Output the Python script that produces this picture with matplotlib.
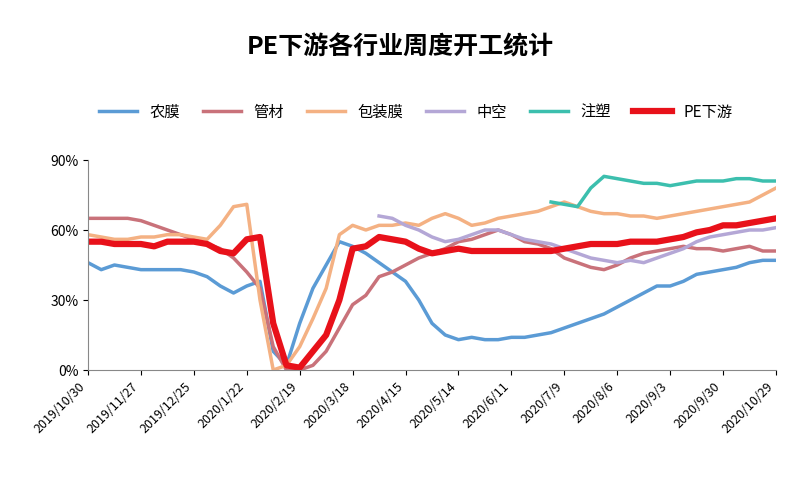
import numpy as np
import matplotlib
matplotlib.use("Agg")
import matplotlib.pyplot as plt

plt.rcParams['font.family'] = ['Noto Sans CJK SC', 'DejaVu Sans']

nan = np.nan

# ====== 数据 (周度开工率 %) ======
tick_labels = ["2019/10/30", "2019/11/27", "2019/12/25", "2020/1/22", "2020/2/19",
               "2020/3/18", "2020/4/15", "2020/5/14", "2020/6/11", "2020/7/9",
               "2020/8/6", "2020/9/3", "2020/9/30", "2020/10/29"]

nongmo = [46, 43, 45, 44, 43, 43, 43, 43, 42, 40, 36, 33, 36, 38, 8, 2, 20, 35, 45, 55,
          53, 50, 46, 42, 38, 30, 20, 15, 13, 14, 13, 13, 14, 14, 15, 16, 18, 20, 22, 24,
          27, 30, 33, 36, 36, 38, 41, 42, 43, 44, 46, 47, 47]
guancai = [65, 65, 65, 65, 64, 62, 60, 58, 56, 54, 52, 48, 42, 35, 10, 0, 0, 2, 8, 18,
           28, 32, 40, 42, 45, 48, 50, 52, 55, 56, 58, 60, 58, 55, 54, 52, 48, 46, 44, 43,
           45, 48, 50, 51, 52, 53, 52, 52, 51, 52, 53, 51, 51]
baozhuang = [58, 57, 56, 56, 57, 57, 58, 58, 57, 56, 62, 70, 71, 30, 0, 2, 10, 22, 35, 58,
             62, 60, 62, 62, 63, 62, 65, 67, 65, 62, 63, 65, 66, 67, 68, 70, 72, 70, 68, 67,
             67, 66, 66, 65, 66, 67, 68, 69, 70, 71, 72, 75, 78]
zhongkong = [nan] * 22 + [66, 65, 62, 60, 57, 55, 56, 58, 60, 60, 58, 56, 55, 54, 52, 50,
                          48, 47, 46, 47, 46, 48, 50, 52, 55, 57, 58, 59, 60, 60, 61]
zhusu = [nan] * 35 + [72, 71, 70, 78, 83, 82, 81, 80, 80, 79, 80, 81, 81, 81, 82, 82, 81, 81]
pe = [55, 55, 54, 54, 54, 53, 55, 55, 55, 54, 51, 50, 56, 57, 20, 2, 1, 8, 15, 30,
      52, 53, 57, 56, 55, 52, 50, 51, 52, 51, 51, 51, 51, 51, 51, 51, 52, 53, 54, 54,
      54, 55, 55, 55, 56, 57, 59, 60, 62, 62, 63, 64, 65]

series = [("农膜", nongmo, "#5b9bd5", 2.5),
          ("管材", guancai, "#c9727a", 2.5),
          ("包装膜", baozhuang, "#f4b183", 2.5),
          ("中空", zhongkong, "#b4a7d6", 2.5),
          ("注塑", zhusu, "#3cbfae", 2.5),
          ("PE下游", pe, "#e8111a", 4.5)]

fig, ax = plt.subplots(figsize=(8, 5), dpi=100)
fig.subplots_adjust(left=0.11, right=0.97, top=0.68, bottom=0.26)

x = np.arange(len(nongmo))
for name, vals, col, lw in series:
    ax.plot(x, vals, color=col, lw=lw, label=name)

ax.set_ylim(0, 90)
ax.set_yticks([0, 30, 60, 90])
ax.set_yticklabels(["0%", "30%", "60%", "90%"], fontsize=10)
ax.set_xlim(0, len(x) - 1)
ax.set_xticks(np.arange(0, len(x), 4))
ax.set_xticklabels(tick_labels, rotation=45, ha="right", fontsize=9)

ax.spines["top"].set_visible(False)
ax.spines["right"].set_visible(False)
ax.spines["left"].set_color("#888888")
ax.spines["bottom"].set_color("#888888")

fig.suptitle("PE下游各行业周度开工统计", fontsize=18, fontweight="bold", y=0.93)
fig.legend(loc="upper center", ncol=6, frameon=False, bbox_to_anchor=(0.52, 0.82),
           fontsize=11, handlelength=2.5, columnspacing=1.5)

plt.savefig("out.png", dpi=100)
